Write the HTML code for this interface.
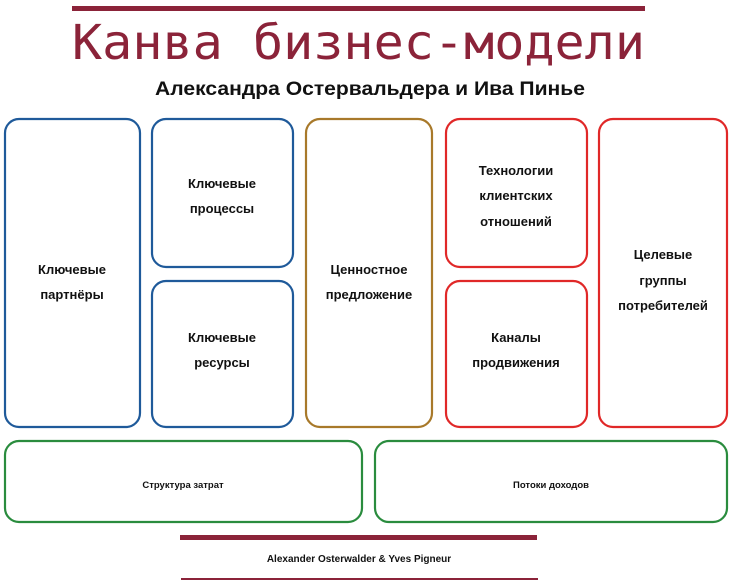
<!DOCTYPE html>
<html><head><meta charset="utf-8"><style>
body{margin:0;background:#fff;}
svg{display:block}
text{font-family:"Liberation Sans","DejaVu Sans",sans-serif;font-weight:bold;fill:#111}
</style></head><body>
<svg width="730" height="581" viewBox="0 0 730 581" xmlns="http://www.w3.org/2000/svg">
<rect x="72" y="6" width="573" height="5" fill="#8b2339"/>
<text x="72" y="59" textLength="573" lengthAdjust="spacingAndGlyphs" style="font-family:'DejaVu Sans Mono',monospace;font-weight:normal;font-size:48px;fill:#8b2339">Канва  бизнес-модели</text>
<text x="370" y="95" text-anchor="middle" textLength="430" lengthAdjust="spacingAndGlyphs" font-size="19">Александра Остервальдера и Ива Пинье</text>
<g fill="none" stroke-width="2.2">
<rect x="5" y="119" width="135" height="308" rx="14" stroke="#1f5a9a"/>
<rect x="152" y="119" width="141" height="148" rx="14" stroke="#1f5a9a"/>
<rect x="152" y="281" width="141" height="146" rx="14" stroke="#1f5a9a"/>
<rect x="306" y="119" width="126" height="308" rx="14" stroke="#a8792a"/>
<rect x="446" y="119" width="141" height="148" rx="14" stroke="#e02828"/>
<rect x="446" y="281" width="141" height="146" rx="14" stroke="#e02828"/>
<rect x="599" y="119" width="128" height="308" rx="14" stroke="#e02828"/>
<rect x="5" y="441" width="357" height="81" rx="14" stroke="#2a8c3e"/>
<rect x="375" y="441" width="352" height="81" rx="14" stroke="#2a8c3e"/>
</g>
<g font-size="13" text-anchor="middle">
<text x="72" y="274">Ключевые</text><text x="72" y="299">партнёры</text>
<text x="222" y="188">Ключевые</text><text x="222" y="213">процессы</text>
<text x="222" y="342">Ключевые</text><text x="222" y="367">ресурсы</text>
<text x="369" y="274">Ценностное</text><text x="369" y="299">предложение</text>
<text x="516" y="175">Технологии</text><text x="516" y="200">клиентских</text><text x="516" y="226">отношений</text>
<text x="516" y="342">Каналы</text><text x="516" y="367">продвижения</text>
<text x="663" y="259">Целевые</text><text x="663" y="285">группы</text><text x="663" y="310">потребителей</text>
</g>
<text x="183" y="488" font-size="9.5" text-anchor="middle">Структура затрат</text>
<text x="551" y="488" font-size="9.5" text-anchor="middle">Потоки доходов</text>
<rect x="180" y="535" width="357" height="5" fill="#8b2339"/>
<text x="359" y="562" font-size="10" text-anchor="middle">Alexander Osterwalder &amp; Yves Pigneur</text>
<rect x="181" y="578" width="357" height="2" fill="#8b2339"/>
</svg>
</body></html>
